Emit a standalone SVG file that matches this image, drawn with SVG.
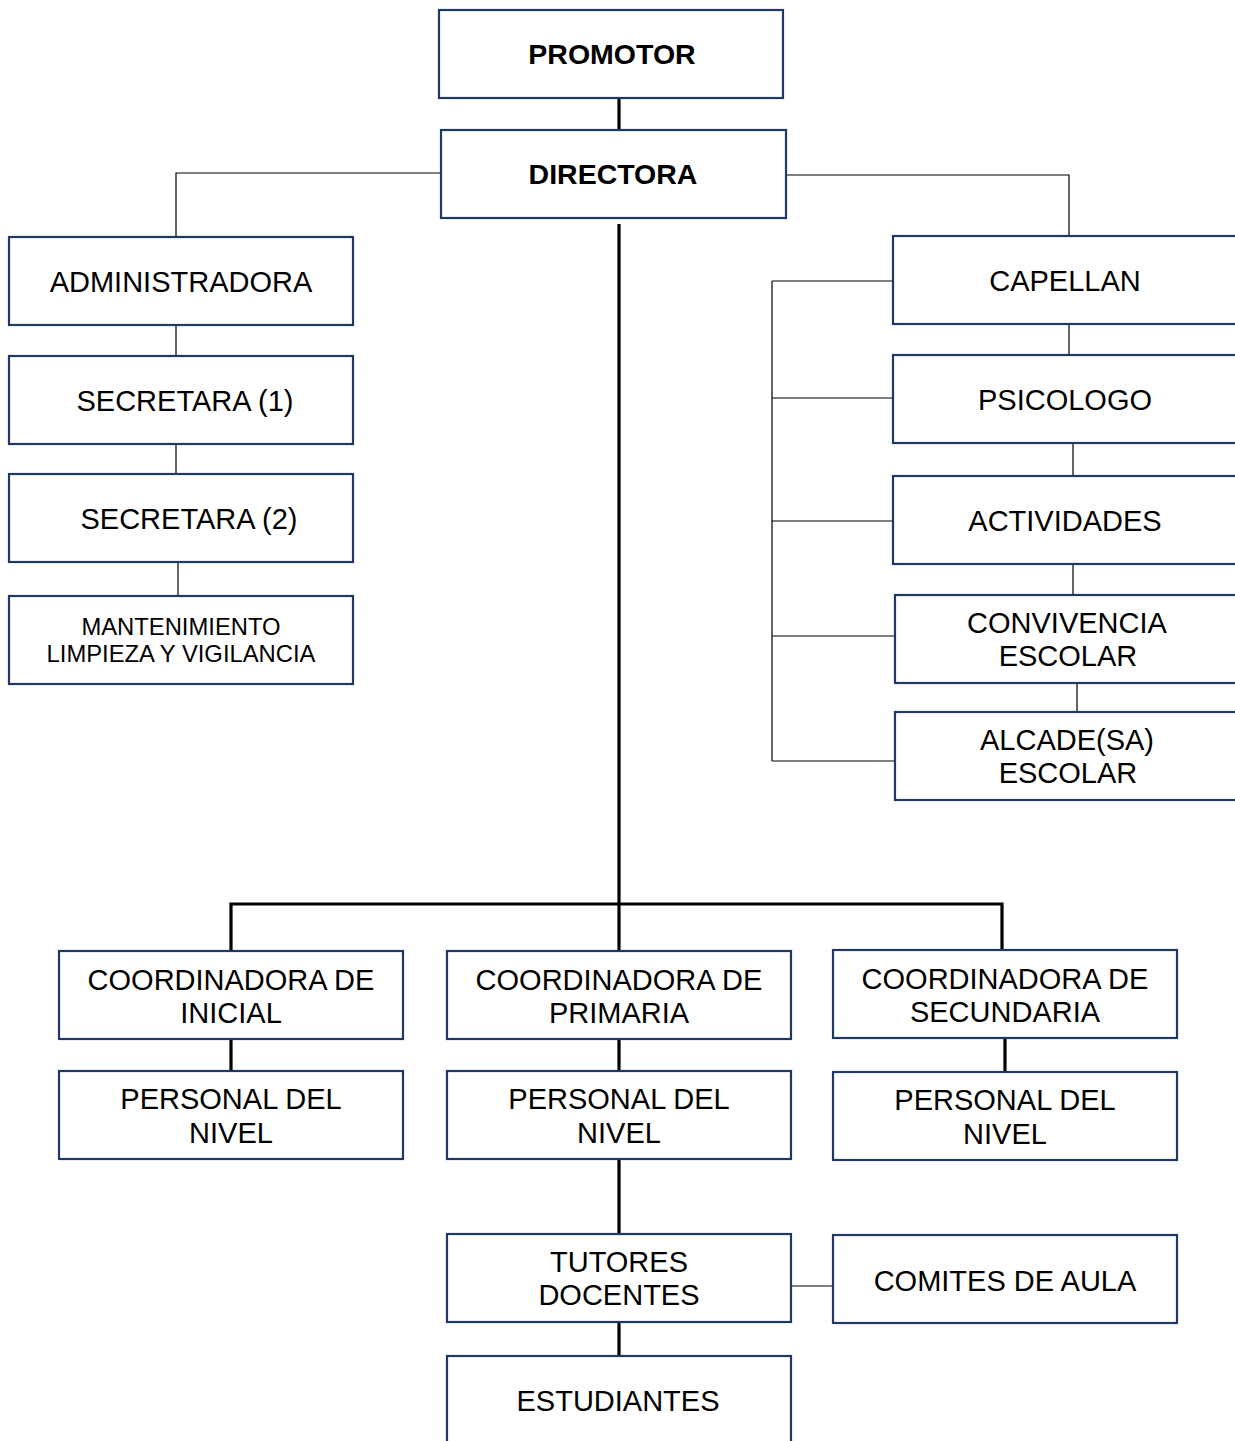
<svg xmlns="http://www.w3.org/2000/svg" width="1235" height="1441" viewBox="0 0 1235 1441">
<style>
.box{fill:#fff;stroke:#1f3864;stroke-width:2.2}
.t{font-family:"Liberation Sans",Arial,sans-serif;font-size:29px;fill:#000;text-anchor:middle}
.b{font-weight:bold;font-size:28.5px}
.s{font-size:23.8px}
.thin{fill:none;stroke:#000;stroke-width:1.2}
.thick{fill:none;stroke:#000;stroke-width:3.2}
</style>
<rect width="1235" height="1441" fill="#fff"/>
<g id="connectors">
<path class="thick" d="M619 98V130"/>
<path class="thin" d="M441 173H176V237M176 325V356M176 444V474M178 562V596"/>
<path class="thin" d="M786 175H1069V236M1069 324V355M1073 443V476M1073 564V595M1077 683V712"/>
<path class="thin" d="M772 281V761M772 281H893M772 398H893M772 521H893M772 636H895M772 761H895"/>
<path class="thick" d="M619 224V951M231 950V904H1002V950"/>
<path class="thick" d="M231 1039V1071M619 1039V1071M1005 1038V1072M619 1159V1234M619 1322V1356"/>
<path class="thin" d="M791 1286H833"/>
</g>
<g id="promotor"><rect class="box" x="439" y="10" width="344" height="88"/><text class="t b" x="612" y="64">PROMOTOR</text></g>
<g id="directora"><rect class="box" x="441" y="130" width="345" height="88"/><text class="t b" x="613" y="184">DIRECTORA</text></g>
<g id="administradora"><rect class="box" x="9" y="237" width="344" height="88"/><text class="t" x="181" y="292">ADMINISTRADORA</text></g>
<g id="secretara1"><rect class="box" x="9" y="356" width="344" height="88"/><text class="t" x="185" y="411">SECRETARA (1)</text></g>
<g id="secretara2"><rect class="box" x="9" y="474" width="344" height="88"/><text class="t" x="189" y="529">SECRETARA (2)</text></g>
<g id="mantenimiento"><rect class="box" x="9" y="596" width="344" height="88"/><text class="t s" x="181" y="635">MANTENIMIENTO</text><text class="t s" x="181" y="662">LIMPIEZA Y VIGILANCIA</text></g>
<g id="capellan"><rect class="box" x="893" y="236" width="360" height="88"/><text class="t" x="1065" y="291">CAPELLAN</text></g>
<g id="psicologo"><rect class="box" x="893" y="355" width="360" height="88"/><text class="t" x="1065" y="410">PSICOLOGO</text></g>
<g id="actividades"><rect class="box" x="893" y="476" width="360" height="88"/><text class="t" x="1065" y="531">ACTIVIDADES</text></g>
<g id="convivencia"><rect class="box" x="895" y="595" width="360" height="88"/><text class="t" x="1067" y="633">CONVIVENCIA</text><text class="t" x="1068" y="666">ESCOLAR</text></g>
<g id="alcade"><rect class="box" x="895" y="712" width="360" height="88"/><text class="t" x="1067" y="750">ALCADE(SA)</text><text class="t" x="1068" y="783">ESCOLAR</text></g>
<g id="coord-inicial"><rect class="box" x="59" y="951" width="344" height="88"/><text class="t" x="231" y="990">COORDINADORA DE</text><text class="t" x="231" y="1023">INICIAL</text></g>
<g id="coord-primaria"><rect class="box" x="447" y="951" width="344" height="88"/><text class="t" x="619" y="990">COORDINADORA DE</text><text class="t" x="619" y="1023">PRIMARIA</text></g>
<g id="coord-secundaria"><rect class="box" x="833" y="950" width="344" height="88"/><text class="t" x="1005" y="989">COORDINADORA DE</text><text class="t" x="1005" y="1022">SECUNDARIA</text></g>
<g id="personal-inicial"><rect class="box" x="59" y="1071" width="344" height="88"/><text class="t" x="231" y="1109">PERSONAL DEL</text><text class="t" x="231" y="1143">NIVEL</text></g>
<g id="personal-primaria"><rect class="box" x="447" y="1071" width="344" height="88"/><text class="t" x="619" y="1109">PERSONAL DEL</text><text class="t" x="619" y="1143">NIVEL</text></g>
<g id="personal-secundaria"><rect class="box" x="833" y="1072" width="344" height="88"/><text class="t" x="1005" y="1110">PERSONAL DEL</text><text class="t" x="1005" y="1144">NIVEL</text></g>
<g id="tutores"><rect class="box" x="447" y="1234" width="344" height="88"/><text class="t" x="619" y="1272">TUTORES</text><text class="t" x="619" y="1305">DOCENTES</text></g>
<g id="comites"><rect class="box" x="833" y="1235" width="344" height="88"/><text class="t" x="1005" y="1291">COMITES DE AULA</text></g>
<g id="estudiantes"><rect class="box" x="447" y="1356" width="344" height="100"/><text class="t" x="618" y="1411">ESTUDIANTES</text></g>
</svg>
